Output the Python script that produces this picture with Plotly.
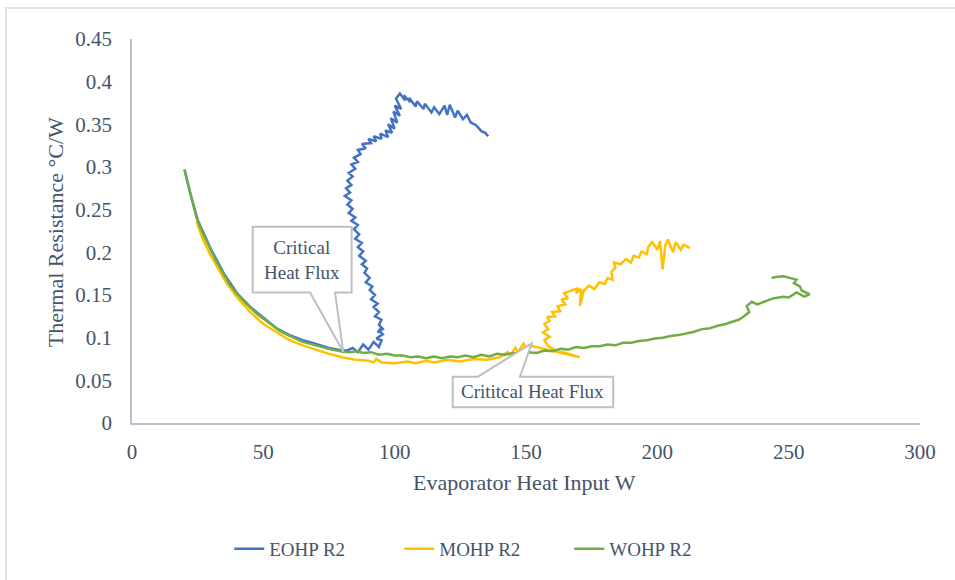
import plotly.graph_objects as go

# ---------------- data ----------------
eohp_x = [20, 22, 25, 30, 35, 40, 45, 50, 55, 60, 65, 70, 75, 80, 82,
          84, 86, 88, 90, 92, 94, 95, 93, 95.5, 94, 95,
          93.5, 95.5, 94, 95, 92.5, 94, 92, 93.5, 91, 92.5, 90.5, 91.5, 89, 90.5, 88.5,
          89.5, 87.5, 89, 86.5, 88, 86, 87.5, 85, 86.5, 84.5, 86, 83.5, 85, 82.5, 84,
          82, 83.5, 81, 83, 81.5, 83.5, 82, 84, 82.5, 85, 83.5, 86, 84.5, 87, 86,
          89, 87.5, 91, 90, 93, 92, 95, 94.5, 97.5, 96.5, 99, 97.5, 100, 98.5, 101,
          99.5, 102, 100, 102.5, 100.5, 102, 104, 103.5, 106, 105.5, 108, 108.5, 111,
          111.5, 114, 115, 117, 119, 120, 121, 123, 124, 126, 127.5, 129, 131, 133,
          134.5, 135.6]
eohp_y = [0.297, 0.271, 0.238, 0.204, 0.175, 0.152, 0.136, 0.123, 0.111, 0.103, 0.097, 0.0925, 0.088, 0.085, 0.085,
          0.088, 0.083, 0.092, 0.086, 0.095, 0.089, 0.097, 0.099, 0.104, 0.108, 0.112,
          0.106, 0.110, 0.115, 0.121, 0.125, 0.130, 0.136, 0.140, 0.145, 0.150, 0.156, 0.160, 0.165, 0.170, 0.176,
          0.181, 0.186, 0.190, 0.196, 0.201, 0.206, 0.211, 0.216, 0.221, 0.227, 0.232, 0.237, 0.241, 0.246, 0.251,
          0.256, 0.261, 0.266, 0.270, 0.275, 0.279, 0.284, 0.289, 0.293, 0.298, 0.303, 0.306, 0.311, 0.315, 0.320,
          0.322, 0.327, 0.328, 0.333, 0.330, 0.336, 0.333, 0.339, 0.335, 0.343, 0.340, 0.350, 0.345, 0.357, 0.352,
          0.365, 0.360, 0.372, 0.368, 0.380, 0.386, 0.378, 0.384, 0.376, 0.381, 0.371, 0.377, 0.368,
          0.374, 0.364, 0.370, 0.362, 0.372, 0.361, 0.373, 0.358, 0.366, 0.356, 0.361, 0.352, 0.349, 0.342,
          0.340, 0.336]

mohp_x = [24.6, 27, 30, 33, 36, 40, 45, 50, 55, 60, 65, 70, 75, 80, 85, 90, 92, 93, 95, 100,
          105, 108, 112, 115, 120, 125, 130, 135, 140, 143, 144, 146, 147, 149, 150, 151,
          170.5, 165, 162, 158.5, 157, 159, 156.5, 158.5, 157, 159, 158, 161, 160, 163, 162,
          165, 163.5, 166, 164.5, 167, 170, 169, 171, 170.5, 172, 174, 176, 178, 180, 181,
          183, 182.5, 184, 183.5, 186, 188, 190, 191, 193, 194, 196, 196.5, 198, 200, 201,
          202, 203, 204, 206, 207, 209, 210, 212.4]
mohp_y = [0.236, 0.215, 0.196, 0.180, 0.164, 0.147, 0.130, 0.116, 0.106, 0.097, 0.091, 0.086, 0.081, 0.077, 0.074, 0.073, 0.071, 0.075, 0.071, 0.070,
          0.072, 0.070, 0.073, 0.071, 0.074, 0.072, 0.075, 0.074, 0.077, 0.083, 0.079, 0.088, 0.083, 0.093, 0.088, 0.091,
          0.077, 0.082, 0.084, 0.090, 0.097, 0.101, 0.106, 0.110, 0.116, 0.120, 0.124, 0.125, 0.130, 0.131, 0.137,
          0.139, 0.145, 0.146, 0.152, 0.155, 0.158, 0.152, 0.157, 0.137, 0.155, 0.161, 0.157, 0.165, 0.163, 0.170,
          0.168, 0.177, 0.182, 0.188, 0.186, 0.192, 0.188, 0.196, 0.194, 0.201, 0.198, 0.206, 0.212, 0.203, 0.213,
          0.180, 0.208, 0.215, 0.200, 0.212, 0.203, 0.209, 0.205]

wohp_x = [20, 22, 24.6, 27, 29.7, 32, 34.8, 37, 39.8, 43, 47.5, 52, 56.3, 60, 65, 70, 74, 78, 80.4,
          83, 86, 88, 91, 94, 97, 100, 103, 106, 109, 112, 115, 118, 121, 124, 127, 130, 133,
          136, 139, 142, 145, 148, 151, 154, 157, 160, 163, 166, 169, 172, 175, 178, 181, 184,
          187, 190, 193, 196, 199, 202, 205, 208, 211, 214, 217, 220, 223, 226, 228.8, 231,
          233, 235, 234, 236, 238, 241.6, 244, 247.9, 250, 253, 256, 258, 255, 254.3, 252,
          253, 250, 248, 245, 243.5]
wohp_y = [0.297, 0.271, 0.240, 0.222, 0.205, 0.190, 0.175, 0.163, 0.152, 0.141, 0.128, 0.118, 0.108, 0.102, 0.095, 0.091, 0.0875, 0.085, 0.0836,
          0.083, 0.084, 0.082, 0.083, 0.080, 0.081, 0.079, 0.079, 0.077, 0.078, 0.076, 0.078, 0.076, 0.078, 0.077, 0.079, 0.077, 0.080,
          0.078, 0.081, 0.080, 0.082, 0.081, 0.083, 0.082, 0.085, 0.084, 0.087, 0.086, 0.089, 0.088, 0.090, 0.090, 0.092, 0.091,
          0.094, 0.094, 0.096, 0.097, 0.099, 0.100, 0.102, 0.103, 0.105, 0.107, 0.110, 0.111, 0.114, 0.116, 0.119, 0.121,
          0.125, 0.130, 0.137, 0.142, 0.139, 0.143, 0.146, 0.148, 0.147, 0.153, 0.148, 0.151, 0.155, 0.160, 0.164,
          0.168, 0.170, 0.172, 0.171, 0.170]

x_ticks = [0, 50, 100, 150, 200, 250, 300]
y_ticks = [0, 0.05, 0.1, 0.15, 0.2, 0.25, 0.3, 0.35, 0.4, 0.45]
y_tick_text = ["0", "0.05", "0.1", "0.15", "0.2", "0.25", "0.3", "0.35", "0.4", "0.45"]

series_names = ["EOHP R2", "MOHP R2", "WOHP R2"]
colors = ["#4472C4", "#FFC000", "#70AD47"]

FONT = "Liberation Serif"
TXT = "#44546A"

fig = go.Figure()
for name, xs, ys, c in zip(series_names, [eohp_x, mohp_x, wohp_x], [eohp_y, mohp_y, wohp_y], colors):
    fig.add_trace(go.Scatter(x=xs, y=ys, mode="lines", name=name,
                             line=dict(color=c, width=2.5)))

axis_common = dict(showgrid=False, zeroline=False, showline=True, linecolor="#B8C1CE",
                   linewidth=1.5, ticks="", tickfont=dict(family=FONT, size=21, color=TXT))
fig.update_xaxes(range=[0, 300], tickvals=x_ticks, ticklabelstandoff=9, **axis_common)
fig.update_yaxes(range=[0, 0.45], tickvals=y_ticks, ticktext=y_tick_text, ticklabelstandoff=14, **axis_common)

callout_line = dict(color="#BFBFBF", width=2)
fig.add_shape(type="path", xref="x", yref="y", layer="above",
              path="M 45.95,0.2301 L 83.6,0.2301 L 83.6,0.1528 L 77.3,0.1528 L 80.4,0.0836 L 67.8,0.1528 L 45.95,0.1528 Z",
              fillcolor="white", line=callout_line)
fig.add_shape(type="path", xref="x", yref="y", layer="above",
              path="M 122.1,0.0184 L 122.1,0.0543 L 131.7,0.0543 L 152.2,0.0934 L 147.7,0.0543 L 183.2,0.0543 L 183.2,0.0184 Z",
              fillcolor="white", line=callout_line)
# outer chart-area border
fig.add_shape(type="rect", xref="paper", yref="paper", x0=-0.160, y0=-0.45, x1=1.07, y1=1.0807,
              line=dict(color="#DDE2E8", width=2), fillcolor="rgba(0,0,0,0)", layer="below")

ann_font = dict(family=FONT, size=19, color=TXT)
fig.add_annotation(x=64.8, y=0.1915, xref="x", yref="y", text="Critical<br>Heat Flux",
                   showarrow=False, font=ann_font, align="center")
fig.add_annotation(x=152.65, y=0.0364, xref="x", yref="y", text="Crititcal Heat Flux",
                   showarrow=False, font=ann_font)
fig.add_annotation(x=0.4987, y=-0.156, xref="paper", yref="paper", text="Evaporator Heat Input W",
                   showarrow=False, font=dict(family=FONT, size=22, color=TXT), yanchor="middle")
fig.add_annotation(x=-0.0977, y=0.497, xref="paper", yref="paper", text="Thermal Resistance °C/W",
                   showarrow=False, font=dict(family=FONT, size=22, color=TXT), textangle=-90,
                   xanchor="center", yanchor="middle")

fig.update_layout(
    width=955, height=580,
    margin=dict(l=132, r=35, t=39, b=157),
    paper_bgcolor="white", plot_bgcolor="white",
    font=dict(family=FONT, size=19, color=TXT),
    showlegend=True,
    legend=dict(orientation="h", x=0.447, xanchor="center", y=-0.328, yanchor="middle",
                font=dict(family=FONT, size=19, color=TXT), entrywidth=125, entrywidthmode="pixels"),
)

fig.write_html("out.html")
